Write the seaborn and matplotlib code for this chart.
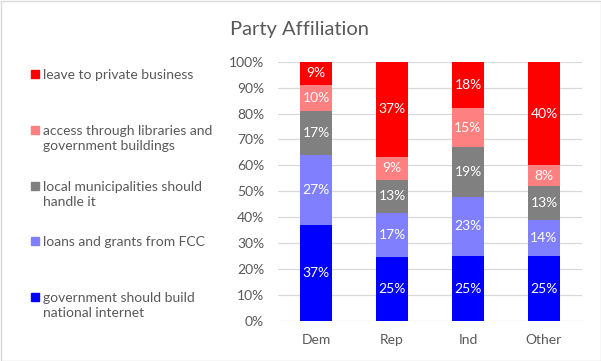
import numpy as np
import pandas as pd
import matplotlib
matplotlib.use("Agg")
import matplotlib.pyplot as plt
import matplotlib.patches as mpatches
from matplotlib.ticker import PercentFormatter
import seaborn as sns

# ---- data ----
parties = ["Dem", "Rep", "Ind", "Other"]
opinions = [
    "government should build\nnational internet",
    "loans and grants from FCC",
    "local municipalities should\nhandle it",
    "access through libraries and\ngovernment buildings",
    "leave to private business",
]
gov_build = [37, 25, 25, 25]
loans_fcc = [27, 17, 23, 14]
local_muni = [17, 13, 19, 13]
libraries = [10, 9, 15, 8]
private_biz = [9, 37, 18, 40]
colors = ["#0000FF", "#8080FF", "#808080", "#FF8080", "#FF0000"]

series = [gov_build, loans_fcc, local_muni, libraries, private_biz]
vals = np.array(series, dtype=float)
shares = vals / vals.sum(axis=0)
cum = np.cumsum(shares, axis=0)

sns.set_theme(style="white")
plt.rcParams["font.family"] = ["Lato", "DejaVu Sans"]
TXT = "#595959"

fig = plt.figure(figsize=(6.01, 3.61), dpi=100)
ax = fig.add_axes([278 / 601, 40 / 361, 304 / 601, 259.3 / 361])

# draw tallest cumulative first so lower layers overlay
for i in range(len(series) - 1, -1, -1):
    df = pd.DataFrame({"party": parties, "top": cum[i]})
    sns.barplot(data=df, x="party", y="top", order=parties, color=colors[i],
                width=0.417, saturation=1, ax=ax, linewidth=0, zorder=3)

# data labels
for i in range(len(series)):
    for j, p in enumerate(parties):
        y = cum[i][j] - shares[i][j] / 2
        ax.text(j, y, f"{int(vals[i][j])}%", color="white", ha="center",
                va="center", fontsize=10, zorder=5)

ax.set_ylim(0, 1)
ax.set_xlim(-0.5, 3.5)
ax.set_yticks(np.arange(0, 1.01, 0.1))
ax.yaxis.set_major_formatter(PercentFormatter(1.0, decimals=0))
ax.grid(axis="y", color="#d9d9d9", linewidth=0.9, zorder=0)
ax.grid(axis="x", visible=False)
for s in ax.spines.values():
    s.set_visible(False)
ax.set_xlabel("")
ax.set_ylabel("")
ax.tick_params(axis="both", length=0, colors=TXT, labelsize=10)
ax.tick_params(axis="y", pad=10)
ax.tick_params(axis="x", pad=9)

# title
fig.text(300 / 601, 1 - 35 / 361, "Party Affiliation", ha="center",
         va="baseline", fontsize=14.5, color=TXT)

# legend (manual, Excel-like spacing)
legend_pos = [74.3, 130.3, 185.7, 240.7, 296.7]  # first-line y (px)
order = [4, 3, 2, 1, 0]
for ypx, idx in zip(legend_pos, order):
    fig.patches.append(mpatches.Rectangle((31 / 601, 1 - (ypx + 4) / 361),
                                          8 / 601, 8 / 361,
                                          transform=fig.transFigure,
                                          color=colors[idx], figure=fig))
    fig.text(43 / 601, 1 - (ypx - 5) / 361, opinions[idx], ha="left",
             va="top", fontsize=10, color=TXT, linespacing=1.3)

# chart border
fig.patches.append(mpatches.Rectangle((0.5 / 601, 0.5 / 361), 1 - 1 / 601,
                                      1 - 1 / 361, transform=fig.transFigure,
                                      fill=False, edgecolor="#d9d9d9",
                                      linewidth=1, figure=fig))

fig.savefig("out.png", dpi=100)
